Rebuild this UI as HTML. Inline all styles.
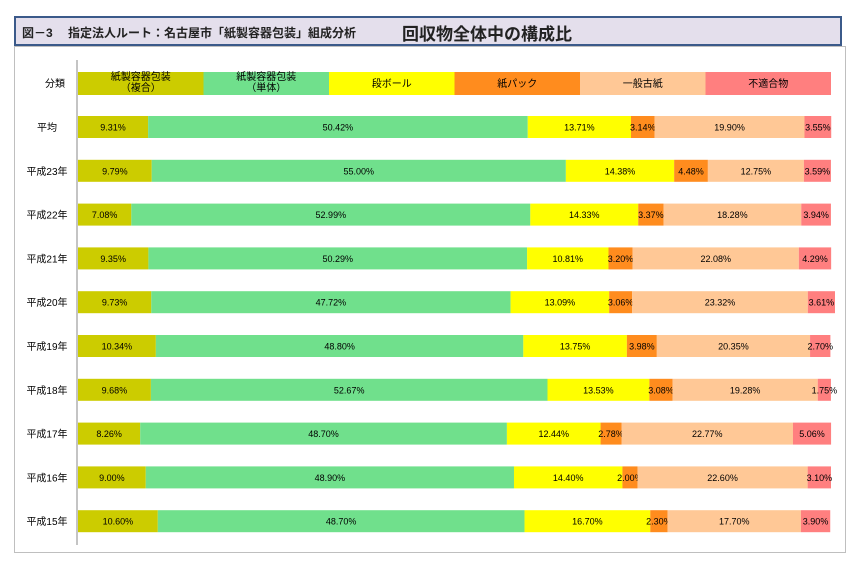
<!DOCTYPE html>
<html><head><meta charset="utf-8">
<style>
body{margin:0;width:861px;height:572px;background:#fff;font-family:"Liberation Sans","Noto Sans CJK JP",sans-serif;position:relative;overflow:hidden}
#title{position:absolute;left:14px;top:16px;width:828px;height:30px;background:#e4dfec;border:2px solid #3b5a8a;box-sizing:border-box}
#title span{position:absolute;top:6px;font-size:12px;font-weight:bold;color:#222}
#frame{position:absolute;left:14px;top:46px;width:832px;height:507px;border:1px solid #bfbfbf;box-sizing:border-box}
svg{position:absolute;left:0;top:0}
</style></head><body>
<div id="title">
<span style="left:6px">図－3　 指定法人ルート：名古屋市「紙製容器包装」組成分析</span>
<span style="left:386px;top:2px;font-size:17px">回収物全体中の構成比</span>
</div>
<div id="frame"></div>
<svg id="chart" width="861" height="572"></svg>
<script>
const categories=["紙製容器包装（複合）","紙製容器包装（単体）","段ボール","紙パック","一般古紙","不適合物"];
const headerLines=[["紙製容器包装","（複合）"],["紙製容器包装","（単体）"],["段ボール"],["紙パック"],["一般古紙"],["不適合物"]];
const rowLabels=["平均","平成23年","平成22年","平成21年","平成20年","平成19年","平成18年","平成17年","平成16年","平成15年"];
const fukugo=[9.31,9.79,7.08,9.35,9.73,10.34,9.68,8.26,9.00,10.60];
const tantai=[50.42,55.00,52.99,50.29,47.72,48.80,52.67,48.70,48.90,48.70];
const danboru=[13.71,14.38,14.33,10.81,13.09,13.75,13.53,12.44,14.40,16.70];
const pack=[3.14,4.48,3.37,3.20,3.06,3.98,3.08,2.78,2.00,2.30];
const koshi=[19.90,12.75,18.28,22.08,23.32,20.35,19.28,22.77,22.60,17.70];
const futekigo=[3.55,3.59,3.94,4.29,3.61,2.70,1.75,5.06,3.10,3.90];
const series=[fukugo,tantai,danboru,pack,koshi,futekigo];
const colors=["#cccc00","#70e08c","#ffff00","#ff8c1e","#ffc896","#ff7f7f"];
const NS="http://www.w3.org/2000/svg";
const svg=document.getElementById('chart');
const x0=78,x1=831,barH=22;
const xs=v=>x0+(x1-x0)*v/100;
const rowY=i=>127+i*43.8;
function mk(t,a){const e=document.createElementNS(NS,t);for(const k in a)e.setAttribute(k,a[k]);svg.appendChild(e);return e;}
// axis
const ax=mk('line',{x1:77,y1:60,x2:77,y2:545,stroke:'#888','stroke-width':1});


// header
const hl=mk('text',{x:55,y:87,'font-size':10,'text-anchor':'middle',fill:'#000'});hl.textContent="分類";


const cw=(x1-x0)/categories.length;
categories.forEach((c,j)=>{
  const r=mk('rect',{x:x0+j*cw,y:72,width:cw,height:23,fill:colors[j]});
  
  
  const ls=headerLines[j];
  ls.forEach((l,k)=>{
    const t=mk('text',{x:x0+j*cw+cw/2,y:ls.length==1?87:80+k*11,'font-size':10,'text-anchor':'middle',fill:'#000'});
    t.textContent=l;
    
    
  });
});
rowLabels.forEach((lab,i)=>{
  const cy=rowY(i);
  const t=mk('text',{x:47,y:cy+4,'font-size':10,'text-anchor':'middle',fill:'#000'});
  t.textContent=lab;
  
  
  let acc=0;
  series.forEach((s,j)=>{
    const v=s[i];
    const r=mk('rect',{x:xs(acc),y:cy-barH/2,width:xs(acc+v)-xs(acc),height:barH,fill:colors[j]});
    
    
    const vt=mk('text',{x:(xs(acc)+xs(acc+v))/2,y:cy+3.5,'font-size':9,'text-anchor':'middle',fill:'#000'});
    vt.textContent=v.toFixed(2)+"%";
    
    
    acc+=v;
  });
});
</script>
</body></html>
